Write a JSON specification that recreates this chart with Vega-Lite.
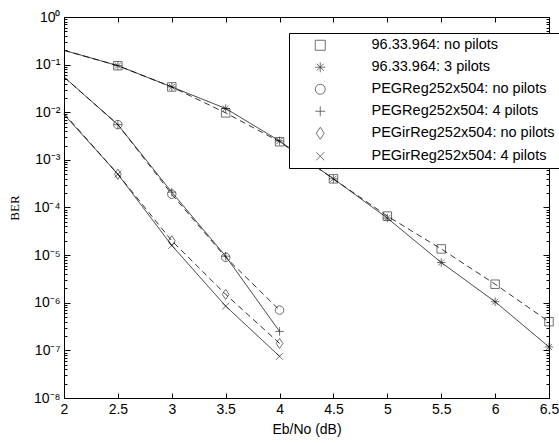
{
  "$schema": "https://vega.github.io/schema/vega-lite/v6.json",
  "width": 485,
  "height": 381,
  "autosize": "none",
  "padding": {"left": 64, "top": 17, "right": 10, "bottom": 45},
  "background": "white",
  "config": {
    "view": {"stroke": "black", "strokeWidth": 1},
    "axis": {
      "labelFont": "Liberation Sans",
      "labelFontSize": 14,
      "labelColor": "black",
      "titleFont": "Liberation Sans",
      "titleFontSize": 14,
      "titleFontWeight": "normal",
      "titleColor": "black",
      "domain": false,
      "tickColor": "black",
      "grid": false,
      "labelOverlap": false,
      "labelFlush": false
    },
    "legend": {
      "labelFont": "Liberation Sans",
      "labelFontSize": 14.5,
      "labelColor": "black",
      "labelLimit": 400
    }
  },
  "data": {
    "values": [
      {"series": "96.33.964: no pilots", "x": 2, "ber": 0.2},
      {"series": "96.33.964: no pilots", "x": 2.5, "ber": 0.095},
      {"series": "96.33.964: no pilots", "x": 3, "ber": 0.034},
      {"series": "96.33.964: no pilots", "x": 3.5, "ber": 0.0097},
      {"series": "96.33.964: no pilots", "x": 4, "ber": 0.0024},
      {"series": "96.33.964: no pilots", "x": 4.5, "ber": 0.0004},
      {"series": "96.33.964: no pilots", "x": 5, "ber": 0.000066},
      {"series": "96.33.964: no pilots", "x": 5.5, "ber": 0.0000135},
      {"series": "96.33.964: no pilots", "x": 6, "ber": 0.00000245},
      {"series": "96.33.964: no pilots", "x": 6.5, "ber": 0.0000004},
      {"series": "96.33.964: 3 pilots", "x": 2, "ber": 0.2},
      {"series": "96.33.964: 3 pilots", "x": 2.5, "ber": 0.095},
      {"series": "96.33.964: 3 pilots", "x": 3, "ber": 0.034},
      {"series": "96.33.964: 3 pilots", "x": 3.5, "ber": 0.012},
      {"series": "96.33.964: 3 pilots", "x": 4, "ber": 0.0025},
      {"series": "96.33.964: 3 pilots", "x": 4.5, "ber": 0.0004},
      {"series": "96.33.964: 3 pilots", "x": 5, "ber": 0.00006},
      {"series": "96.33.964: 3 pilots", "x": 5.5, "ber": 0.000007},
      {"series": "96.33.964: 3 pilots", "x": 6, "ber": 0.00000105},
      {"series": "96.33.964: 3 pilots", "x": 6.5, "ber": 0.000000118},
      {"series": "PEGReg252x504: no pilots", "x": 2, "ber": 0.055},
      {"series": "PEGReg252x504: no pilots", "x": 2.5, "ber": 0.0055},
      {"series": "PEGReg252x504: no pilots", "x": 3, "ber": 0.00019},
      {"series": "PEGReg252x504: no pilots", "x": 3.5, "ber": 0.000009},
      {"series": "PEGReg252x504: no pilots", "x": 4, "ber": 0.0000007},
      {"series": "PEGReg252x504: 4 pilots", "x": 2, "ber": 0.055},
      {"series": "PEGReg252x504: 4 pilots", "x": 2.5, "ber": 0.0055},
      {"series": "PEGReg252x504: 4 pilots", "x": 3, "ber": 0.00021},
      {"series": "PEGReg252x504: 4 pilots", "x": 3.5, "ber": 0.0000095},
      {"series": "PEGReg252x504: 4 pilots", "x": 4, "ber": 0.00000025},
      {"series": "PEGirReg252x504: no pilots", "x": 2, "ber": 0.0095},
      {"series": "PEGirReg252x504: no pilots", "x": 2.5, "ber": 0.0005},
      {"series": "PEGirReg252x504: no pilots", "x": 3, "ber": 0.00002},
      {"series": "PEGirReg252x504: no pilots", "x": 3.5, "ber": 0.0000015},
      {"series": "PEGirReg252x504: no pilots", "x": 4, "ber": 0.00000014},
      {"series": "PEGirReg252x504: 4 pilots", "x": 2, "ber": 0.009},
      {"series": "PEGirReg252x504: 4 pilots", "x": 2.5, "ber": 0.0005},
      {"series": "PEGirReg252x504: 4 pilots", "x": 3, "ber": 0.000016},
      {"series": "PEGirReg252x504: 4 pilots", "x": 3.5, "ber": 0.00000085},
      {"series": "PEGirReg252x504: 4 pilots", "x": 4, "ber": 0.000000075}
    ]
  },
  "layer": [
    {
      "mark": {"type": "line", "color": "black", "strokeWidth": 0.8},
      "encoding": {
        "x": {
          "field": "x", "type": "quantitative",
          "scale": {"domain": [2, 6.5], "nice": false, "zero": false},
          "axis": {
            "orient": "bottom",
            "values": [2, 2.5, 3, 3.5, 4, 4.5, 5, 5.5, 6, 6.5],
            "labelExpr": "toString(datum.value)",
            "offset": -5,
            "tickSize": {"condition": {"test": "datum.value > -1000", "value": 5}, "value": 5},
            "labelPadding": 4,
            "title": "Eb/No (dB)",
            "titlePadding": 6
          }
        },
        "y": {
          "field": "ber", "type": "quantitative",
          "scale": {"type": "log", "domain": [1e-8, 1], "nice": false},
          "axis": {
            "orient": "left",
            "values": [1e-8, 1e-7, 1e-6, 1e-5, 1e-4, 1e-3, 1e-2, 1e-1, 1],
            "labelExpr": "'10' + (round(log(datum.value)/LN10) < 0 ? '⁻' : '') + ['⁰','¹','²','³','⁴','⁵','⁶','⁷','⁸'][abs(round(log(datum.value)/LN10))]",
            "offset": -6,
            "tickSize": {"condition": {"test": "datum.value > 0", "value": 6}, "value": 6},
            "labelPadding": 4,
            "title": "BER",
            "titleFont": "Liberation Serif",
            "titleFontSize": 13,
            "titlePadding": 12
          }
        },
        "strokeDash": {
          "field": "series", "type": "nominal",
          "scale": {
            "domain": ["96.33.964: 3 pilots", "96.33.964: no pilots", "PEGReg252x504: 4 pilots", "PEGReg252x504: no pilots", "PEGirReg252x504: 4 pilots", "PEGirReg252x504: no pilots"],
            "range": [[1, 0], [6, 4], [1, 0], [6, 4], [1, 0], [6, 4]]
          },
          "legend": null
        }
      }
    },
    {
      "transform": [{"filter": "datum.x > 2"}],
      "mark": {"type": "point", "filled": false, "color": "black", "strokeWidth": 0.8, "size": 72},
      "encoding": {
        "x": {
          "field": "x", "type": "quantitative",
          "axis": {"orient": "top", "values": [2, 2.5, 3, 3.5, 4, 4.5, 5, 5.5, 6, 6.5], "labels": false, "offset": -5, "tickSize": {"condition": {"test": "datum.value > -1000", "value": 5}, "value": 5}, "title": null}
        },
        "y": {
          "field": "ber", "type": "quantitative",
          "axis": {
            "orient": "right",
            "values": [1e-8, 1e-7, 1e-6, 1e-5, 1e-4, 1e-3, 1e-2, 1e-1, 1],
            "labels": false,
            "offset": -6,
            "tickSize": {"condition": {"test": "datum.value > 0", "value": 6}, "value": 6},
            "title": null
          }
        },
        "shape": {
          "field": "series", "type": "nominal",
          "scale": {
            "domain": ["96.33.964: no pilots", "96.33.964: 3 pilots", "PEGReg252x504: no pilots", "PEGReg252x504: 4 pilots", "PEGirReg252x504: no pilots", "PEGirReg252x504: 4 pilots"],
            "range": [
              "M-1,-1H1V1H-1Z",
              "M-1,0H1M0,-1V1M-0.7,-0.7L0.7,0.7M-0.7,0.7L0.7,-0.7",
              "M-1,0A1,1,0,1,0,1,0A1,1,0,1,0,-1,0Z",
              "M-1,0H1M0,-1V1",
              "M0,-1.2L0.8,0L0,1.2L-0.8,0Z",
              "M-0.8,-0.8L0.8,0.8M-0.8,0.8L0.8,-0.8"
            ]
          },
          "legend": {
            "title": null,
            "orient": "none",
            "legendX": 225,
            "legendY": 16,
            "strokeColor": "black",
            "fillColor": "white",
            "padding": 5,
            "rowPadding": 7,
            "symbolSize": 100,
            "symbolOffset": 19,
            "labelOffset": 44,
            "symbolStrokeColor": "black",
            "symbolFillColor": "transparent",
            "symbolStrokeWidth": 0.8,
            "encode": {
              "symbols": {
                "shape": {"value": {"expr": "['M-4,0H-2.6M2.8,0H4M-0.48,-0.48H0.48V0.48H-0.48ZM-0.48,0H0.48','M-4,0H4M0,-0.7V0.7M-0.5,-0.5L0.5,0.5M-0.5,0.5L0.5,-0.5','M-4,0H-2.6M2.8,0H4M-0.52,0A0.52,0.52,0,1,0,0.52,0A0.52,0.52,0,1,0,-0.52,0ZM-0.52,0H0.52','M-4,0H4M0,-0.7V0.7','M-4,0H-2.6M2.8,0H4M0,-0.85L0.7,0L0,0.85L-0.7,0Z','M-4,0H4M-0.45,-0.45L0.45,0.45M-0.45,0.45L0.45,-0.45'][indexof(['96.33.964: no pilots','96.33.964: 3 pilots','PEGReg252x504: no pilots','PEGReg252x504: 4 pilots','PEGirReg252x504: no pilots','PEGirReg252x504: 4 pilots'], datum.value)]"}},
                "fill": {"value": "transparent"},
                "stroke": {"value": "black"}
              }
            }
          }
        }
      }
    },
    {
      "mark": {"type": "point", "opacity": 0},
      "encoding": {
        "x": {"field": "x", "type": "quantitative", "axis": null},
        "y": {
          "field": "ber", "type": "quantitative",
          "axis": {
            "orient": "left",
            "values": [2e-8,3e-8,4e-8,5e-8,6e-8,7e-8,8e-8,9e-8,2e-7,3e-7,4e-7,5e-7,6e-7,7e-7,8e-7,9e-7,2e-6,3e-6,4e-6,5e-6,6e-6,7e-6,8e-6,9e-6,2e-5,3e-5,4e-5,5e-5,6e-5,7e-5,8e-5,9e-5,2e-4,3e-4,4e-4,5e-4,6e-4,7e-4,8e-4,9e-4,2e-3,3e-3,4e-3,5e-3,6e-3,7e-3,8e-3,9e-3,2e-2,3e-2,4e-2,5e-2,6e-2,7e-2,8e-2,9e-2,2e-1,3e-1,4e-1,5e-1,6e-1,7e-1,8e-1,9e-1],
            "labels": false,
            "offset": -3,
            "tickSize": {"condition": {"test": "datum.value > 0", "value": 3}, "value": 3},
            "title": null
          }
        }
      }
    },
    {
      "mark": {"type": "point", "opacity": 0},
      "encoding": {
        "x": {"field": "x", "type": "quantitative", "axis": null},
        "y": {
          "field": "ber", "type": "quantitative",
          "axis": {
            "orient": "right",
            "values": [2e-8,3e-8,4e-8,5e-8,6e-8,7e-8,8e-8,9e-8,2e-7,3e-7,4e-7,5e-7,6e-7,7e-7,8e-7,9e-7,2e-6,3e-6,4e-6,5e-6,6e-6,7e-6,8e-6,9e-6,2e-5,3e-5,4e-5,5e-5,6e-5,7e-5,8e-5,9e-5,2e-4,3e-4,4e-4,5e-4,6e-4,7e-4,8e-4,9e-4,2e-3,3e-3,4e-3,5e-3,6e-3,7e-3,8e-3,9e-3,2e-2,3e-2,4e-2,5e-2,6e-2,7e-2,8e-2,9e-2,2e-1,3e-1,4e-1,5e-1,6e-1,7e-1,8e-1,9e-1],
            "labels": false,
            "offset": -3,
            "tickSize": {"condition": {"test": "datum.value > 0", "value": 3}, "value": 3},
            "title": null
          }
        }
      }
    }
  ],
  "resolve": {"axis": {"x": "independent", "y": "independent"}}
}
